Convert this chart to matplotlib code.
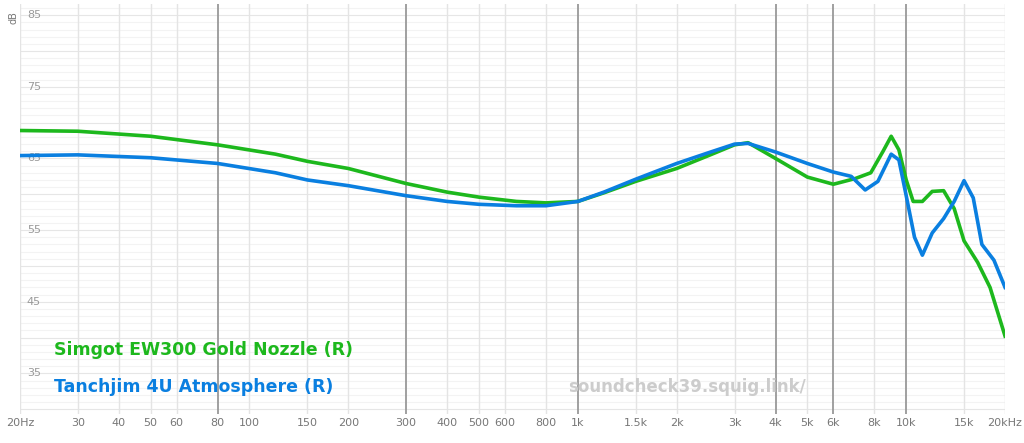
import matplotlib
matplotlib.use("Agg")
import matplotlib.pyplot as plt
import numpy as np

freq_g = [20, 30, 50, 80, 120, 150, 200, 300, 400, 500, 650, 800, 1000, 1200, 1500, 2000, 2500, 3000, 3300, 4000, 5000, 6000, 7000, 7800, 8500, 9000, 9500, 10000, 10500, 11200, 12000, 13000, 14000, 15000, 16500, 18000, 20000]
spl_g = [68.9, 68.8, 68.1, 66.9, 65.6, 64.6, 63.6, 61.5, 60.3, 59.6, 59.0, 58.8, 59.0, 60.2, 61.8, 63.6, 65.4, 66.9, 67.2, 65.0, 62.4, 61.4, 62.2, 63.0, 66.0, 68.1, 66.2, 62.0, 59.0, 59.0, 60.4, 60.5, 58.0, 53.5, 50.5, 47.0, 40.2]
freq_b = [20, 30, 50, 80, 120, 150, 200, 300, 400, 500, 650, 800, 1000, 1200, 1500, 2000, 2500, 3000, 3300, 4000, 5000, 6000, 6800, 7500, 8200, 9000, 9500, 10000, 10600, 11200, 12000, 13000, 14000, 15000, 16000, 17000, 18500, 20000]
spl_b = [65.4, 65.5, 65.1, 64.3, 63.0, 62.0, 61.2, 59.8, 59.0, 58.6, 58.4, 58.4, 59.0, 60.3, 62.1, 64.3, 65.8, 67.0, 67.1, 65.9, 64.3, 63.1, 62.5, 60.6, 61.8, 65.6, 64.8, 59.8, 54.0, 51.5, 54.6, 56.6, 59.0, 61.9, 59.5, 53.0, 50.8, 47.0]

labels = ["Simgot EW300 Gold Nozzle (R)", "Tanchjim 4U Atmosphere (R)"]
colors = ["#1db81d", "#0a7fe0"]

xticks = [20, 30, 40, 50, 60, 80, 100, 150, 200, 300, 400, 500, 600, 800, 1000, 1500, 2000, 3000, 4000, 5000, 6000, 8000, 10000, 15000, 20000]
xlabels = ["20Hz", "30", "40", "50", "60", "80", "100", "150", "200", "300", "400", "500", "600", "800", "1k", "1.5k", "2k", "3k", "4k", "5k", "6k", "8k", "10k", "15k", "20kHz"]
dark = [80, 300, 1000, 4000, 6000, 10000]
yticks = [35, 45, 55, 65, 75, 85]

fig = plt.figure(figsize=(10.24, 4.43), dpi=100)
ax = fig.add_axes([0.0195, 0.065, 0.962, 0.925])
ax.set_xscale("log")
ax.set_xlim(20, 20000)
ax.set_ylim(29.3, 86.5)
for y in range(30, 87):
    ax.axhline(y, color="#f3f3f3" if y % 5 else "#e6e6e6", lw=0.8, zorder=0)
for t in xticks:
    ax.axvline(t, color="#999999" if t in dark else "#e4e4e4", lw=1.3 if t in dark else 1, zorder=1)
ax.plot(freq_g, spl_g, color=colors[0], lw=2.6, zorder=3)
ax.plot(freq_b, spl_b, color=colors[1], lw=2.6, zorder=4)
for s in ax.spines.values():
    s.set_visible(False)
ax.set_xticks(xticks)
ax.set_xticklabels(xlabels)
ax.minorticks_off()
ax.tick_params(axis="x", length=0, labelsize=8, colors="#777777", pad=3)
ax.set_yticks([])
for y in yticks:
    ax.text(21, y, str(y), fontsize=8, color="#999999", va="center", ha="left")
fig.text(0.008, 0.96, "dB", fontsize=7, color="#777777", rotation=90, va="center")
ax.text(0.035, 0.145, labels[0], transform=ax.transAxes, color=colors[0], fontsize=12.5, fontweight="bold")
ax.text(0.035, 0.055, labels[1], transform=ax.transAxes, color=colors[1], fontsize=12.5, fontweight="bold")
ax.text(0.798, 0.055, "soundcheck39.squig.link/", transform=ax.transAxes, color="#cccccc", fontsize=12, fontweight="bold", ha="right")
fig.savefig("out.png", dpi=100, facecolor="white")
